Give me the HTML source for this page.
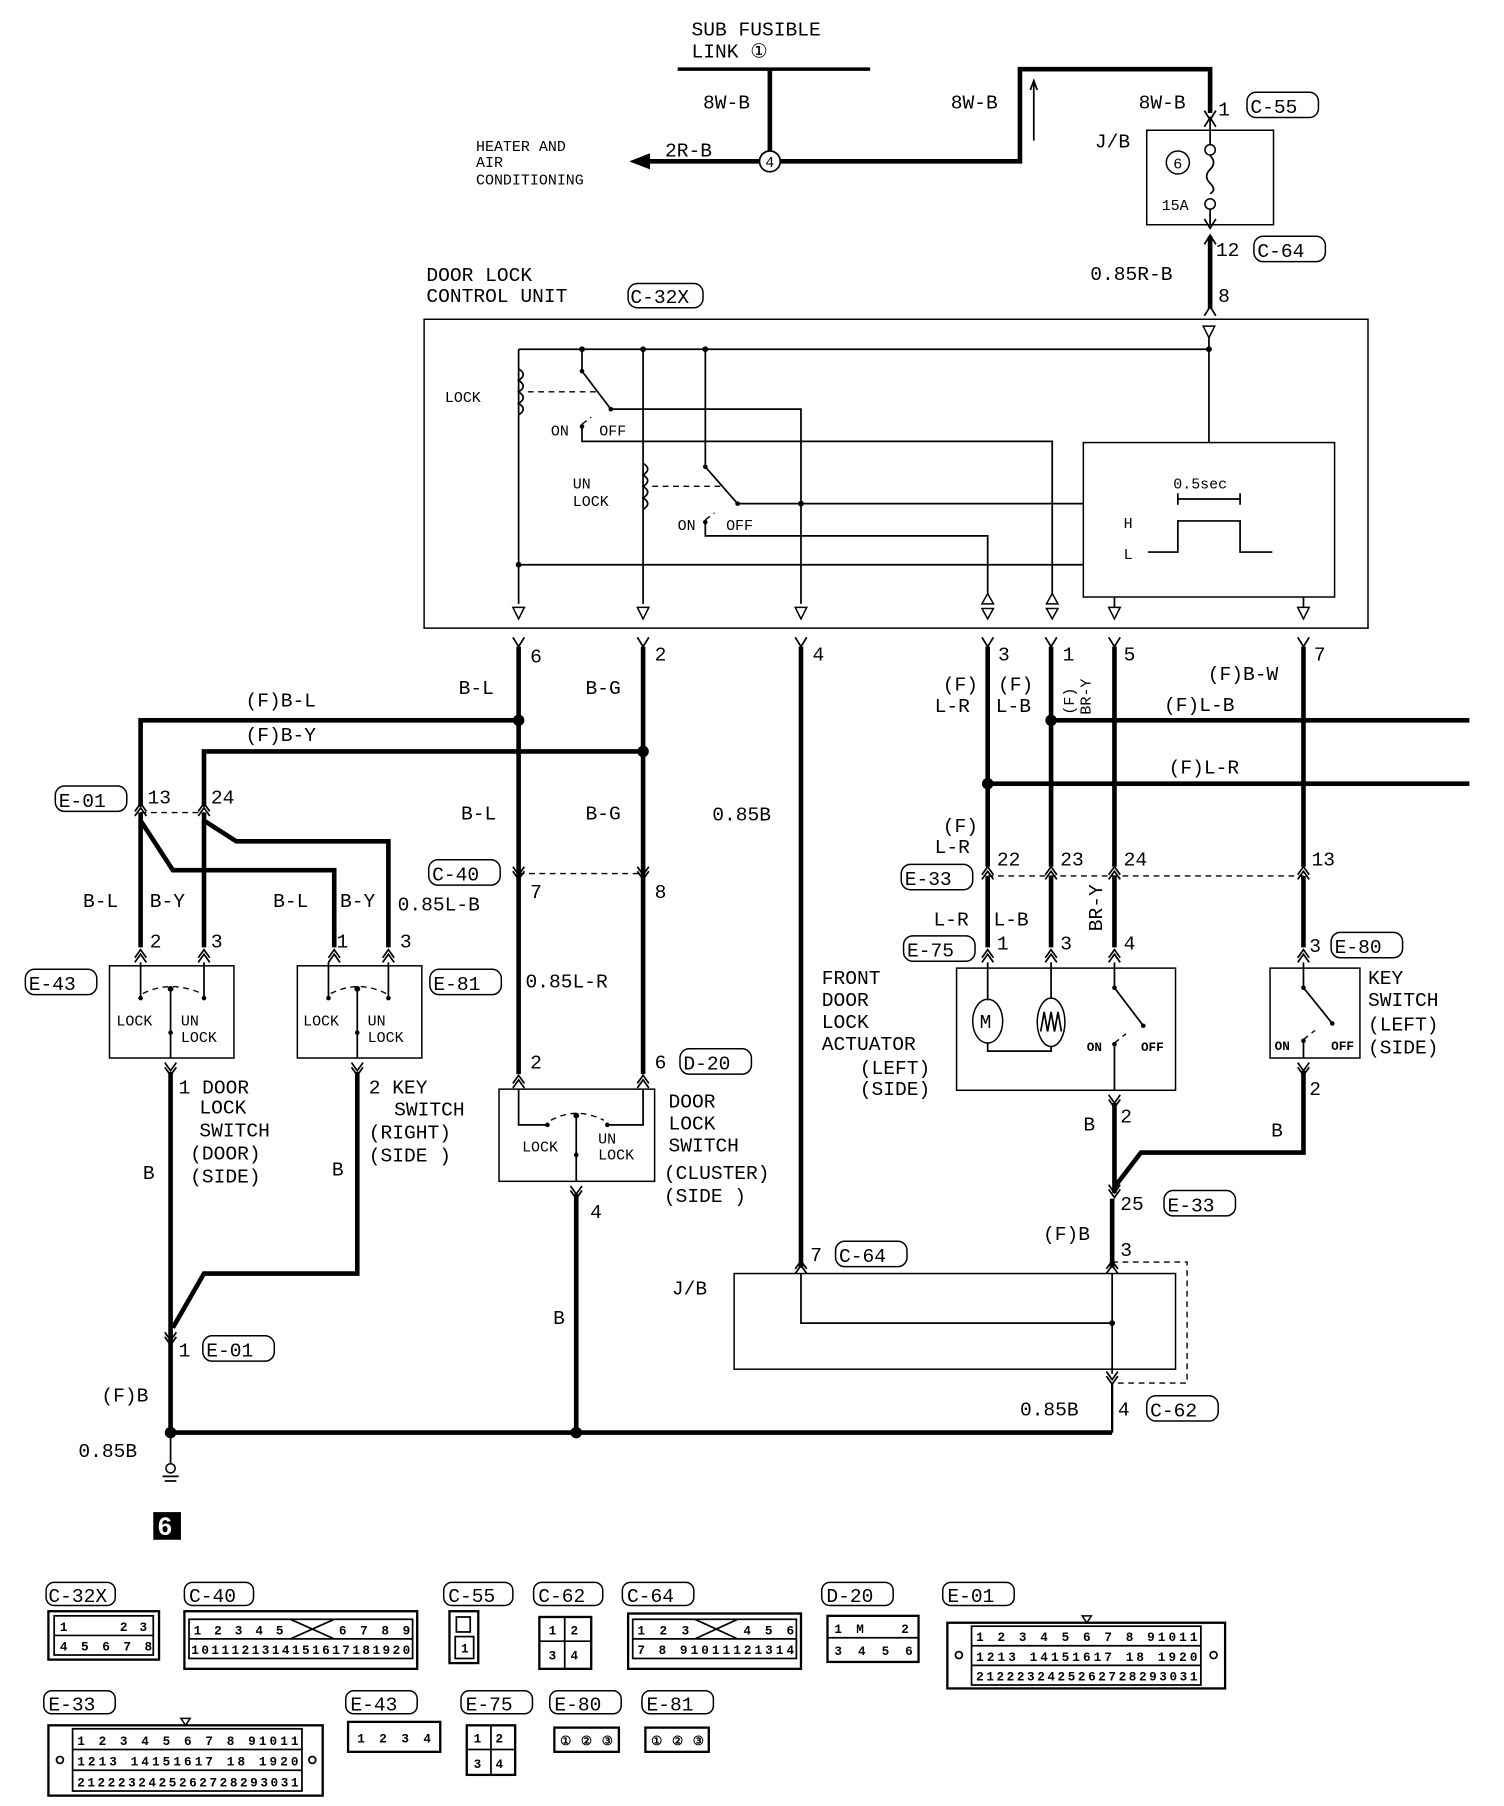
<!DOCTYPE html>
<html><head><meta charset="utf-8"><style>
html,body{margin:0;padding:0;background:#fff}
svg{display:block}
text{font-family:"Liberation Mono","DejaVu Sans Mono",monospace;fill:#000}
.t{font-size:17px}
.s{font-size:13px}
.c{font-size:11px;font-weight:bold}
.k{stroke:#000;stroke-width:4;fill:none}
.n{stroke:#000;stroke-width:1.5;fill:none}
.d{stroke:#000;stroke-width:1.2;fill:none;stroke-dasharray:5 4}
.b{stroke:#000;stroke-width:1.3;fill:none}
</style></head><body>
<svg width="1504" height="1806" viewBox="0 0 1305 1567" preserveAspectRatio="none" xmlns="http://www.w3.org/2000/svg">
<!-- top -->
<text class="t" x="600" y="31">SUB FUSIBLE</text>
<text class="t" x="600" y="50">LINK ①</text>
<line x1="588" y1="60" x2="755" y2="60" class="k" style="stroke-width:3"/>
<line x1="668" y1="60" x2="668" y2="132" class="k"/>
<text class="t" x="610" y="94">8W-B</text>
<circle cx="668" cy="140" r="9" fill="#fff" stroke="#000" stroke-width="1.5"/>
<text class="s" x="664" y="145">4</text>
<line x1="659" y1="140" x2="560" y2="140" class="k"/>
<polygon points="546,140 564,133 564,147"/>
<text class="t" x="577" y="136">2R-B</text>
<text class="s" x="413" y="131">HEATER AND</text>
<text class="s" x="413" y="145">AIR</text>
<text class="s" x="413" y="160">CONDITIONING</text>
<polyline points="677,140 885,140 885,60 1050,60 1050,98" class="k"/>
<text class="t" x="825" y="94">8W-B</text>
<line x1="897" y1="122" x2="897" y2="72" class="n"/><polyline points="894,78 897,70 900,78" class="n"/>
<text class="t" x="988" y="94">8W-B</text>
<text class="t" x="1057" y="100">1</text>
<rect x="1082" y="80" width="62" height="22" rx="8" class="b"/><text class="t" x="1085" y="98">C-55</text>
<polyline points="1045,96 1050,104 1055,96" class="n"/><polyline points="1045,110 1050,102 1055,110" class="n"/>
<rect x="995" y="113" width="110" height="82" class="b"/>
<text class="t" x="950" y="128">J/B</text>
<circle cx="1022" cy="141" r="10" class="b"/><text class="s" x="1018" y="146">6</text>
<line x1="1050" y1="104" x2="1050" y2="125" class="n"/>
<circle cx="1050" cy="130" r="4.5" class="b"/>
<path d="M1050 135 q6 6 0 12 q-6 6 0 12 q6 6 0 9" class="n"/>
<circle cx="1050" cy="177" r="4.5" class="b"/>
<line x1="1050" y1="182" x2="1050" y2="195" class="n"/>
<text class="s" x="1008" y="182">15A</text>
<polyline points="1045,190 1050,198 1055,190" class="n"/>
<polyline points="1045,212 1050,204 1055,212" class="n"/>
<line x1="1050" y1="205" x2="1050" y2="268" class="k"/>
<text class="t" x="1055" y="222">12</text>
<rect x="1088" y="205" width="62" height="22" rx="8" class="b"/><text class="t" x="1091" y="223">C-64</text>
<text class="t" x="946" y="243">0.85R-B</text>
<text class="t" x="1057" y="262">8</text>
<polyline points="1045,274 1050,266 1055,274" class="n"/>
<!-- control unit -->
<text class="t" x="370" y="244">DOOR LOCK</text>
<text class="t" x="370" y="262">CONTROL UNIT</text>
<rect x="545" y="246" width="65" height="21" rx="8" class="b"/><text class="t" x="547" y="263">C-32X</text>
<rect x="368" y="277" width="819" height="268" class="b"/>
<polygon points="1044,283 1054,283 1049,293" class="b"/>
<line x1="1049" y1="293" x2="1049" y2="384" class="n"/>
<line x1="450" y1="303" x2="1049" y2="303" class="n"/>
<circle cx="505" cy="303" r="2.5"/><circle cx="558" cy="303" r="2.5"/><circle cx="612" cy="303" r="2.5"/><circle cx="1049" cy="303" r="2.5"/>
<line x1="450" y1="303" x2="450" y2="524" class="n"/>
<path d="M450 320 q8 5 0 10 q8 5 0 10 q8 5 0 10 q8 5 0 10" class="n" fill="#fff"/>
<text class="s" x="386" y="349">LOCK</text>
<line x1="458" y1="340" x2="520" y2="340" class="d"/>
<line x1="505" y1="303" x2="505" y2="322" class="n"/><circle cx="505" cy="322" r="2"/>
<line x1="505" y1="322" x2="530" y2="355" class="n"/><circle cx="530" cy="355" r="2"/>
<polyline points="530,355 695,355 695,524" class="n"/>
<path d="M505 368 l8 -6" class="d"/><circle cx="505" cy="370" r="2"/>
<text class="s" x="478" y="378">ON</text><text class="s" x="520" y="378">OFF</text>
<polyline points="505,370 505,383 913,383 913,515" class="n"/>
<line x1="558" y1="303" x2="558" y2="524" class="n"/>
<path d="M558 402 q8 5 0 10 q8 5 0 10 q8 5 0 10 q8 5 0 10" class="n" fill="#fff"/>
<text class="s" x="497" y="424">UN</text><text class="s" x="497" y="439">LOCK</text>
<line x1="566" y1="422" x2="628" y2="422" class="d"/>
<line x1="612" y1="303" x2="612" y2="405" class="n"/><circle cx="612" cy="405" r="2"/>
<line x1="612" y1="405" x2="640" y2="437" class="n"/><circle cx="640" cy="437" r="2"/>
<line x1="640" y1="437" x2="940" y2="437" class="n"/><circle cx="695" cy="437" r="2.5"/>
<path d="M612 451 l8 -6" class="d"/><circle cx="612" cy="453" r="2"/>
<text class="s" x="588" y="460">ON</text><text class="s" x="630" y="460">OFF</text>
<polyline points="612,453 612,465 857,465 857,515" class="n"/>
<line x1="450" y1="490" x2="940" y2="490" class="n"/><circle cx="450" cy="490" r="2.5"/>
<rect x="940" y="384" width="218" height="134" class="b"/>
<text class="s" x="1018" y="424">0.5sec</text>
<line x1="1022" y1="433" x2="1076" y2="433" class="n"/>
<line x1="1022" y1="428" x2="1022" y2="438" class="n"/><line x1="1076" y1="428" x2="1076" y2="438" class="n"/>
<text class="s" x="975" y="458">H</text><text class="s" x="975" y="485">L</text>
<polyline points="996,479 1022,479 1022,452 1076,452 1076,479 1104,479" class="n"/>
<line x1="967" y1="518" x2="967" y2="527" class="n"/><line x1="1131" y1="518" x2="1131" y2="527" class="n"/>
<polygon points="445,527 455,527 450,537" class="b"/><polygon points="553,527 563,527 558,537" class="b"/>
<polygon points="690,527 700,527 695,537" class="b"/><polygon points="962,527 972,527 967,537" class="b"/>
<polygon points="1126,527 1136,527 1131,537" class="b"/>
<polygon points="852,524 862,524 857,515" class="b"/><polygon points="852,528 862,528 857,537" class="b"/>
<polygon points="908,524 918,524 913,515" class="b"/><polygon points="908,528 918,528 913,537" class="b"/>
<!-- terminals below CU -->
<g class="n">
<polyline points="445,553 450,561 455,553"/><polyline points="553,553 558,561 563,553"/><polyline points="690,553 695,561 700,553"/>
<polyline points="852,553 857,561 862,553"/><polyline points="907,553 912,561 917,553"/><polyline points="962,553 967,561 972,553"/><polyline points="1126,553 1131,561 1136,553"/>
</g>
<text class="t" x="460" y="575">6</text><text class="t" x="568" y="573">2</text><text class="t" x="705" y="573">4</text>
<text class="t" x="866" y="573">3</text><text class="t" x="922" y="573">1</text><text class="t" x="975" y="573">5</text><text class="t" x="1140" y="573">7</text>
<line x1="450" y1="561" x2="450" y2="932" class="k"/>
<line x1="558" y1="561" x2="558" y2="932" class="k"/>
<line x1="695" y1="561" x2="695" y2="1100" class="k"/>
<line x1="857" y1="561" x2="857" y2="752" class="k"/>
<line x1="912" y1="561" x2="912" y2="752" class="k"/>
<line x1="967" y1="561" x2="967" y2="752" class="k"/>
<line x1="1131" y1="561" x2="1131" y2="752" class="k"/>
<text class="t" x="398" y="602">B-L</text><text class="t" x="508" y="602">B-G</text>
<text class="t" x="1048" y="590">(F)B-W</text>
<text class="t" x="818" y="599">(F)</text><text class="t" x="811" y="618">L-R</text>
<text class="t" x="866" y="599">(F)</text><text class="t" x="864" y="618">L-B</text>
<text class="s" transform="translate(932,620) rotate(-90)">(F)</text>
<text class="s" transform="translate(946,620) rotate(-90)">BR-Y</text>
<polyline points="122,700 122,625 450,625" class="k"/><circle cx="450" cy="625" r="5"/>
<polyline points="177,700 177,652 558,652" class="k"/><circle cx="558" cy="652" r="5"/>
<text class="t" x="213" y="613">(F)B-L</text><text class="t" x="213" y="643">(F)B-Y</text>
<line x1="912" y1="625" x2="1275" y2="625" class="k"/><circle cx="912" cy="625" r="5"/>
<line x1="857" y1="680" x2="1275" y2="680" class="k"/><circle cx="857" cy="680" r="5"/>
<text class="t" x="1010" y="617">(F)L-B</text><text class="t" x="1014" y="671">(F)L-R</text>
<!-- E-01 -->
<rect x="48" y="682" width="62" height="22" rx="8" class="b"/><text class="t" x="51" y="700">E-01</text>
<text class="t" x="128" y="697">13</text><text class="t" x="183" y="697">24</text>
<line x1="122" y1="705" x2="177" y2="705" class="d"/>
<g class="n"><polyline points="117,704 122,697 127,704"/><polyline points="117,708 122,701 127,708"/><polyline points="172,704 177,697 182,704"/><polyline points="172,708 177,701 182,708"/></g>
<line x1="122" y1="705" x2="122" y2="822" class="k"/>
<line x1="177" y1="705" x2="177" y2="822" class="k"/>
<polyline points="122,712 150,755 290,755 290,822" class="k"/>
<polyline points="177,712 205,730 337,730 337,822" class="k"/>
<text class="t" x="72" y="787">B-L</text><text class="t" x="130" y="787">B-Y</text>
<text class="t" x="237" y="787">B-L</text><text class="t" x="295" y="787">B-Y</text>
<text class="t" x="345" y="790">0.85L-B</text>
<text class="t" x="130" y="822">2</text><text class="t" x="183" y="822">3</text><text class="t" x="292" y="822">1</text><text class="t" x="347" y="822">3</text>
<g class="n">
<polyline points="117,831 122,824 127,831"/><polyline points="117,835 122,828 127,835"/>
<polyline points="172,831 177,824 182,831"/><polyline points="172,835 177,828 182,835"/>
<polyline points="285,831 290,824 295,831"/><polyline points="285,835 290,828 295,835"/>
<polyline points="332,831 337,824 342,831"/><polyline points="332,835 337,828 342,835"/>
</g>
<!-- E-43 -->
<rect x="95" y="838" width="108" height="80" class="b"/>
<rect x="22" y="841" width="62" height="22" rx="8" class="b"/><text class="t" x="25" y="859">E-43</text>
<line x1="122" y1="835" x2="122" y2="865" class="n"/><line x1="177" y1="835" x2="177" y2="865" class="n"/>
<circle cx="122" cy="866" r="2"/><circle cx="177" cy="866" r="2"/><circle cx="148" cy="858" r="2.5"/>
<path d="M124 862 q24 -12 51 0" class="d"/>
<line x1="148" y1="858" x2="148" y2="918" class="n"/><circle cx="148" cy="896" r="2"/>
<text class="s" x="101" y="890">LOCK</text><text class="s" x="157" y="890">UN</text><text class="s" x="157" y="904">LOCK</text>
<!-- E-81 -->
<rect x="258" y="838" width="108" height="80" class="b"/>
<rect x="373" y="841" width="62" height="22" rx="8" class="b"/><text class="t" x="376" y="859">E-81</text>
<line x1="285" y1="835" x2="285" y2="865" class="n"/><line x1="337" y1="835" x2="337" y2="865" class="n"/>
<circle cx="285" cy="866" r="2"/><circle cx="337" cy="866" r="2"/><circle cx="310" cy="858" r="2.5"/>
<path d="M287 862 q24 -12 48 0" class="d"/>
<line x1="310" y1="858" x2="310" y2="918" class="n"/><circle cx="310" cy="896" r="2"/>
<text class="s" x="263" y="890">LOCK</text><text class="s" x="319" y="890">UN</text><text class="s" x="319" y="904">LOCK</text>
<g class="n"><polyline points="143,922 148,929 153,922"/><polyline points="143,926 148,933 153,926"/><polyline points="305,922 310,929 315,922"/><polyline points="305,926 310,933 315,926"/></g>
<line x1="148" y1="930" x2="148" y2="1243" class="k"/>
<polyline points="310,930 310,1105 177,1105 150,1152" class="k"/>
<text class="t" x="155" y="949">1 DOOR</text><text class="t" x="173" y="966">LOCK</text><text class="t" x="173" y="986">SWITCH</text><text class="t" x="165" y="1006">(DOOR)</text><text class="t" x="165" y="1026">(SIDE)</text>
<text class="t" x="320" y="949">2 KEY</text><text class="t" x="342" y="968">SWITCH</text><text class="t" x="320" y="988">(RIGHT)</text><text class="t" x="320" y="1008">(SIDE )</text>
<text class="t" x="124" y="1023">B</text><text class="t" x="288" y="1020">B</text>
<g class="n"><polyline points="143,1156 148,1163 153,1156"/><polyline points="143,1160 148,1167 153,1160"/></g>
<text class="t" x="155" y="1177">1</text>
<rect x="176" y="1159" width="62" height="22" rx="8" class="b"/><text class="t" x="179" y="1177">E-01</text>
<text class="t" x="88" y="1216">(F)B</text>
<line x1="148" y1="1243" x2="965" y2="1243" class="k"/>
<circle cx="148" cy="1243" r="5"/><circle cx="500" cy="1243" r="5"/>
<text class="t" x="68" y="1264">0.85B</text>
<line x1="148" y1="1243" x2="148" y2="1270" class="n"/><circle cx="148" cy="1274" r="4" class="b"/>
<line x1="141" y1="1281" x2="155" y2="1281" class="n"/><line x1="143" y1="1285" x2="153" y2="1285" class="n"/>
<rect x="133" y="1312" width="24" height="24" fill="#000"/><text x="137" y="1332" style="font-size:22px;font-weight:bold;fill:#fff;font-family:'Liberation Sans',sans-serif">6</text>
<!-- C-40/D-20 middle -->
<text class="t" x="400" y="711">B-L</text><text class="t" x="508" y="711">B-G</text><text class="t" x="618" y="712">0.85B</text>
<rect x="372" y="746" width="62" height="22" rx="8" class="b"/><text class="t" x="375" y="764">C-40</text>
<line x1="450" y1="758" x2="558" y2="758" class="d"/>
<g class="n"><polyline points="445,752 450,759 455,752"/><polyline points="445,756 450,763 455,756"/><polyline points="553,752 558,759 563,752"/><polyline points="553,756 558,763 563,756"/></g>
<text class="t" x="460" y="779">7</text><text class="t" x="568" y="779">8</text>
<text class="t" x="456" y="857">0.85L-R</text>
<text class="t" x="460" y="927">2</text><text class="t" x="568" y="927">6</text>
<rect x="590" y="910" width="62" height="22" rx="8" class="b"/><text class="t" x="593" y="928">D-20</text>
<g class="n"><polyline points="445,940 450,933 455,940"/><polyline points="445,944 450,937 455,944"/><polyline points="553,940 558,933 563,940"/><polyline points="553,944 558,937 563,944"/></g>
<rect x="433" y="945" width="135" height="80" class="b"/>
<polyline points="450,945 450,976 475,976" class="n"/><polyline points="558,945 558,976 527,976" class="n"/>
<circle cx="475" cy="976" r="2"/><circle cx="527" cy="976" r="2"/><circle cx="500" cy="968" r="2.5"/>
<path d="M478 972 q22 -12 46 0" class="d"/>
<line x1="500" y1="968" x2="500" y2="1025" class="n"/><circle cx="500" cy="1002" r="2"/>
<text class="s" x="453" y="999">LOCK</text><text class="s" x="519" y="992">UN</text><text class="s" x="519" y="1006">LOCK</text>
<text class="t" x="580" y="961">DOOR</text><text class="t" x="580" y="980">LOCK</text><text class="t" x="580" y="999">SWITCH</text><text class="t" x="576" y="1023">(CLUSTER)</text><text class="t" x="576" y="1043">(SIDE   )</text>
<g class="n"><polyline points="495,1029 500,1036 505,1029"/><polyline points="495,1033 500,1040 505,1033"/></g>
<line x1="500" y1="1036" x2="500" y2="1243" class="k"/>
<text class="t" x="512" y="1057">4</text><text class="t" x="480" y="1149">B</text>
<!-- right side E-33 etc -->
<text class="t" x="818" y="722">(F)</text><text class="t" x="811" y="740">L-R</text>
<rect x="782" y="750" width="62" height="22" rx="8" class="b"/><text class="t" x="785" y="768">E-33</text>
<line x1="857" y1="760" x2="1131" y2="760" class="d"/>
<g class="n">
<polyline points="852,759 857,752 862,759"/><polyline points="852,763 857,756 862,763"/>
<polyline points="907,759 912,752 917,759"/><polyline points="907,763 912,756 917,763"/>
<polyline points="962,759 967,752 972,759"/><polyline points="962,763 967,756 972,763"/>
<polyline points="1126,759 1131,752 1136,759"/><polyline points="1126,763 1131,756 1136,763"/>
</g>
<text class="t" x="865" y="751">22</text><text class="t" x="920" y="751">23</text><text class="t" x="975" y="751">24</text><text class="t" x="1138" y="751">13</text>
<line x1="857" y1="760" x2="857" y2="822" class="k"/><line x1="912" y1="760" x2="912" y2="822" class="k"/>
<line x1="967" y1="760" x2="967" y2="822" class="k"/><line x1="1131" y1="760" x2="1131" y2="822" class="k"/>
<text class="t" x="810" y="803">L-R</text><text class="t" x="862" y="803">L-B</text>
<text class="t" transform="translate(956,808) rotate(-90)">BR-Y</text>
<rect x="784" y="812" width="62" height="22" rx="8" class="b"/><text class="t" x="787" y="830">E-75</text>
<text class="t" x="865" y="824">1</text><text class="t" x="920" y="824">3</text><text class="t" x="975" y="824">4</text>
<text class="t" x="1136" y="826">3</text>
<rect x="1155" y="809" width="62" height="22" rx="8" class="b"/><text class="t" x="1158" y="827">E-80</text>
<g class="n">
<polyline points="852,831 857,824 862,831"/><polyline points="852,835 857,828 862,835"/>
<polyline points="907,831 912,824 917,831"/><polyline points="907,835 912,828 917,835"/>
<polyline points="962,831 967,824 972,831"/><polyline points="962,835 967,828 972,835"/>
<polyline points="1126,831 1131,824 1136,831"/><polyline points="1126,835 1131,828 1136,835"/>
</g>
<rect x="830" y="840" width="190" height="106" class="b"/>
<line x1="857" y1="835" x2="857" y2="868" class="n"/><ellipse cx="857" cy="886" rx="13" ry="19" class="b"/><text class="t" x="850" y="892">M</text>
<polyline points="857,905 857,912 912,912 912,908" class="n"/>
<line x1="912" y1="835" x2="912" y2="866" class="n"/><ellipse cx="912" cy="887" rx="12" ry="21" class="b"/>
<polyline points="903,895 906,878 909,895 912,878 915,895 918,878 921,895" class="n"/>
<line x1="967" y1="835" x2="967" y2="857" class="n"/><circle cx="967" cy="857" r="2"/><line x1="967" y1="857" x2="992" y2="890" class="n"/><circle cx="992" cy="890" r="2"/>
<path d="M967 905 l10 -8" class="d"/><circle cx="967" cy="906" r="2"/>
<line x1="967" y1="906" x2="967" y2="946" class="n"/>
<text class="c" x="943" y="912">ON</text><text class="c" x="990" y="912">OFF</text>
<text class="t" x="713" y="854">FRONT</text><text class="t" x="713" y="873">DOOR</text><text class="t" x="713" y="892">LOCK</text><text class="t" x="713" y="911">ACTUATOR</text><text class="t" x="746" y="932">(LEFT)</text><text class="t" x="746" y="950">(SIDE)</text>
<rect x="1102" y="840" width="78" height="78" class="b"/>
<line x1="1131" y1="835" x2="1131" y2="857" class="n"/><circle cx="1131" cy="857" r="2"/><line x1="1131" y1="857" x2="1156" y2="888" class="n"/><circle cx="1156" cy="888" r="2"/>
<path d="M1131 902 l10 -8" class="d"/><circle cx="1131" cy="903" r="2"/><line x1="1131" y1="903" x2="1131" y2="918" class="n"/>
<text class="c" x="1106" y="911">ON</text><text class="c" x="1155" y="911">OFF</text>
<text class="t" x="1187" y="854">KEY</text><text class="t" x="1187" y="873">SWITCH</text><text class="t" x="1187" y="894">(LEFT)</text><text class="t" x="1187" y="914">(SIDE)</text>
<g class="n">
<polyline points="962,950 967,957 972,950"/><polyline points="962,954 967,961 972,954"/>
<polyline points="1126,922 1131,929 1136,922"/><polyline points="1126,926 1131,933 1136,926"/>
<polyline points="962,1028 967,1035 972,1028"/><polyline points="962,1032 967,1039 972,1032"/>
</g>
<text class="t" x="972" y="974">2</text><text class="t" x="940" y="981">B</text>
<text class="t" x="1136" y="950">2</text><text class="t" x="1103" y="986">B</text>
<line x1="967" y1="957" x2="967" y2="1035" class="k"/>
<polyline points="1131,929 1131,1000 990,1000 967,1030" class="k"/>
<text class="t" x="972" y="1050">25</text>
<rect x="1010" y="1033" width="62" height="22" rx="8" class="b"/><text class="t" x="1013" y="1051">E-33</text>
<text class="t" x="905" y="1076">(F)B</text>
<line x1="965" y1="1040" x2="965" y2="1100" class="k"/>
<text class="t" x="972" y="1090">3</text>
<text class="t" x="703" y="1094">7</text>
<rect x="725" y="1077" width="62" height="22" rx="8" class="b"/><text class="t" x="728" y="1095">C-64</text>
<g class="n"><polyline points="690,1101 695,1094 700,1101"/><polyline points="690,1105 695,1098 700,1105"/><polyline points="960,1101 965,1094 970,1101"/><polyline points="960,1105 965,1098 970,1105"/></g>
<rect x="637" y="1105" width="383" height="83" class="b"/>
<polyline points="965,1095 1030,1095 1030,1200 965,1200" class="d"/>
<text class="t" x="583" y="1123">J/B</text>
<polyline points="695,1105 695,1148 965,1148" class="n"/><circle cx="965" cy="1148" r="2.5"/>
<line x1="965" y1="1105" x2="965" y2="1192" class="n"/>
<g class="n"><polyline points="960,1190 965,1197 970,1190"/><polyline points="960,1194 965,1201 970,1194"/></g>
<line x1="965" y1="1200" x2="965" y2="1243" class="n" style="stroke-width:2"/>
<text class="t" x="885" y="1228">0.85B</text><text class="t" x="970" y="1228">4</text>
<rect x="995" y="1211" width="62" height="22" rx="8" class="b"/><text class="t" x="998" y="1229">C-62</text>
<!-- connector pictures -->
<g>
<rect x="40" y="1373" width="60" height="20" rx="7" class="b"/><text class="t" x="42" y="1390">C-32X</text>
<rect x="42" y="1398" width="96" height="42" class="b" style="stroke-width:2"/>
<rect x="47" y="1402" width="86" height="34" class="n"/><line x1="47" y1="1419" x2="133" y2="1419" class="n"/>
<text class="c" x="52" y="1415">1</text><text class="c" x="104" y="1415">2</text><text class="c" x="121" y="1415">3</text>
<text class="c" x="52" y="1432" textLength="80">4 5 6 7 8</text>
<rect x="160" y="1373" width="60" height="20" rx="7" class="b"/><text class="t" x="164" y="1390">C-40</text>
<rect x="160" y="1398" width="202" height="50" class="b" style="stroke-width:2"/>
<rect x="164" y="1405" width="194" height="34" class="n"/><line x1="164" y1="1422" x2="358" y2="1422" class="n"/>
<text class="c" x="168" y="1418" textLength="78">1 2 3 4 5</text><path d="M252 1405 L290 1422 M252 1422 L290 1405" class="n"/>
<text class="c" x="294" y="1418" textLength="62">6 7 8 9</text>
<text class="c" x="166" y="1435" textLength="190">1011121314151617181920</text>
<rect x="385" y="1373" width="60" height="20" rx="7" class="b"/><text class="t" x="389" y="1390">C-55</text>
<rect x="390" y="1398" width="25" height="45" class="b" style="stroke-width:2"/><rect x="396" y="1403" width="12" height="13" class="n"/><rect x="395" y="1420" width="16" height="19" class="n"/><text class="c" x="400" y="1434">1</text>
<rect x="463" y="1373" width="60" height="20" rx="7" class="b"/><text class="t" x="467" y="1390">C-62</text>
<rect x="468" y="1403" width="45" height="45" class="b" style="stroke-width:2"/><line x1="490" y1="1403" x2="490" y2="1448" class="n"/><line x1="468" y1="1424" x2="513" y2="1424" class="n"/>
<text class="c" x="476" y="1418">1</text><text class="c" x="495" y="1418">2</text><text class="c" x="476" y="1440">3</text><text class="c" x="495" y="1440">4</text>
<rect x="540" y="1373" width="62" height="20" rx="7" class="b"/><text class="t" x="544" y="1390">C-64</text>
<rect x="545" y="1400" width="150" height="48" class="b" style="stroke-width:2"/>
<rect x="549" y="1405" width="142" height="34" class="n"/><line x1="549" y1="1422" x2="691" y2="1422" class="n"/>
<text class="c" x="553" y="1418" textLength="45">1 2 3</text><path d="M603 1405 L640 1422 M603 1422 L640 1405" class="n"/>
<text class="c" x="645" y="1418" textLength="44">4 5 6</text>
<text class="c" x="553" y="1435" textLength="136">7 8 91011121314</text>
<rect x="713" y="1373" width="62" height="20" rx="7" class="b"/><text class="t" x="717" y="1390">D-20</text>
<rect x="718" y="1402" width="79" height="40" class="b" style="stroke-width:2"/><line x1="718" y1="1421" x2="797" y2="1421" class="n"/>
<text class="c" x="724" y="1417">1</text><text class="c" x="743" y="1417">M</text><text class="c" x="782" y="1417">2</text>
<text class="c" x="724" y="1436" textLength="68">3 4 5 6</text>
<rect x="818" y="1373" width="62" height="20" rx="7" class="b"/><text class="t" x="822" y="1390">E-01</text>
<polygon points="939,1402 947,1402 943,1408" class="b"/>
<rect x="822" y="1408" width="241" height="57" class="b" style="stroke-width:2"/>
<rect x="843" y="1411" width="199" height="51" class="n"/><line x1="843" y1="1428" x2="1042" y2="1428" class="n"/><line x1="843" y1="1445" x2="1042" y2="1445" class="n"/>
<text class="c" x="847" y="1424" textLength="192">1 2 3 4 5 6 7 8 91011</text>
<text class="c" x="847" y="1441" textLength="192">1213  14151617 18  1920</text>
<text class="c" x="847" y="1458" textLength="192">2122232425262728293031</text>
<circle cx="832" cy="1436" r="3" class="n"/><circle cx="1053" cy="1436" r="3" class="n"/>
<rect x="38" y="1467" width="62" height="20" rx="7" class="b"/><text class="t" x="42" y="1484">E-33</text>
<polygon points="157,1491 165,1491 161,1497" class="b"/>
<rect x="42" y="1497" width="238" height="61" class="b" style="stroke-width:2"/>
<rect x="63" y="1500" width="199" height="54" class="n"/><line x1="63" y1="1518" x2="262" y2="1518" class="n"/><line x1="63" y1="1536" x2="262" y2="1536" class="n"/>
<text class="c" x="67" y="1514" textLength="192">1 2 3 4 5 6 7 8 91011</text>
<text class="c" x="67" y="1532" textLength="192">1213  14151617 18  1920</text>
<text class="c" x="67" y="1550" textLength="192">2122232425262728293031</text>
<circle cx="52" cy="1527" r="3" class="n"/><circle cx="271" cy="1527" r="3" class="n"/>
<rect x="300" y="1467" width="62" height="20" rx="7" class="b"/><text class="t" x="304" y="1484">E-43</text>
<rect x="302" y="1494" width="80" height="26" class="b" style="stroke-width:2"/><text class="c" x="310" y="1512" textLength="64">1 2 3 4</text>
<rect x="400" y="1467" width="62" height="20" rx="7" class="b"/><text class="t" x="404" y="1484">E-75</text>
<rect x="405" y="1497" width="42" height="43" class="b" style="stroke-width:2"/><line x1="426" y1="1497" x2="426" y2="1540" class="n"/><line x1="405" y1="1518" x2="447" y2="1518" class="n"/>
<text class="c" x="411" y="1512">1</text><text class="c" x="430" y="1512">2</text><text class="c" x="411" y="1534">3</text><text class="c" x="430" y="1534">4</text>
<rect x="477" y="1467" width="62" height="20" rx="7" class="b"/><text class="t" x="481" y="1484">E-80</text>
<rect x="481" y="1499" width="56" height="21" class="b" style="stroke-width:2"/><text class="c" x="486" y="1514" textLength="46">①②③</text>
<rect x="557" y="1467" width="62" height="20" rx="7" class="b"/><text class="t" x="561" y="1484">E-81</text>
<rect x="560" y="1499" width="55" height="21" class="b" style="stroke-width:2"/><text class="c" x="565" y="1514" textLength="46">①②③</text>
</g>
</svg>
</body></html>
